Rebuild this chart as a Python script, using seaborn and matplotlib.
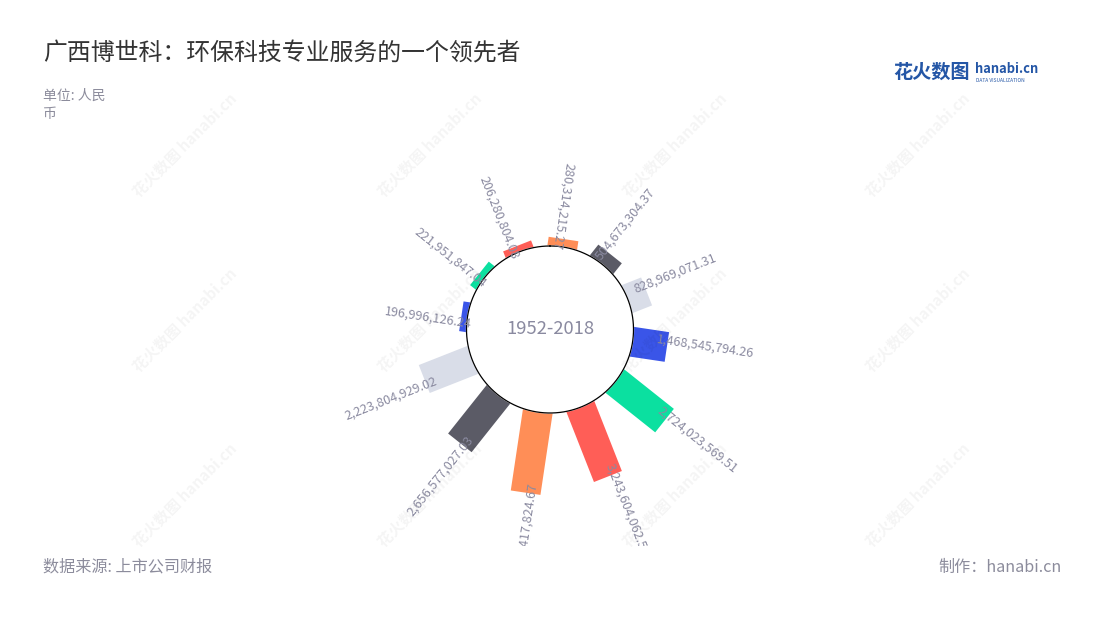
import numpy as np
import matplotlib
matplotlib.use("Agg")
import matplotlib.pyplot as plt
import seaborn as sns
from matplotlib.transforms import Bbox, Affine2D

sns.set_theme(style="white")
plt.rcParams['font.family'] = ['Noto Sans CJK SC', 'DejaVu Sans']

# ---- data ----
labels = ["280,314,215.27", "504,673,304.37", "828,969,071.31", "1,468,545,794.26",
          "2,724,023,569.51", "3,243,604,062.56", "3,554,417,824.67", "2,656,577,027.03",
          "2,223,804,929.02", "196,996,126.24", "221,951,847.04", "206,280,804.08"]
values = [280314215.27, 504673304.37, 828969071.31, 1468545794.26,
          2724023569.51, 3243604062.56, 3554417824.67, 2656577027.03,
          2223804929.02, 196996126.24, 221951847.04, 206280804.08]
palette = ["#FF8E57", "#5B5B66", "#D9DDE8", "#3A55E8", "#0BE0A0", "#FF5E57"]
center_text = "1952-2018"
title = "广西博世科：环保科技专业服务的一个领先者"
unit_lines = ["单位: 人民", "币"]
source = "数据来源: 上市公司财报"
maker = "制作：hanabi.cn"

W, H = 1100, 620
fig = plt.figure(figsize=(W / 100, H / 100), dpi=100)
fig.patch.set_facecolor("white")

# watermarks
for wx in [185, 430, 675, 918]:
    for wy in [145, 320, 495]:
        fig.text(wx / W, 1 - wy / H, "花火数图 hanabi.cn", rotation=45, ha="center", va="center",
                 fontsize=11, fontweight="bold", color="#000000", alpha=0.045, zorder=0)

# polar axes, centre at (550, 329.5) px
cx, cy, half = 550, 329.5, 200
ax = fig.add_axes([(cx - half) / W, (H - cy - half) / H, 2 * half / W, 2 * half / H], projection="polar")
ax.set_facecolor("none")
ax.set_theta_zero_location("N")
ax.set_theta_direction(-1)

px_per_unit = 22.45e-9     # pixels per yuan
r_inner_px = 85.2
rmin = -r_inner_px / px_per_unit
rmax = half / px_per_unit + rmin
ax.set_ylim(rmin, rmax)
ax.grid(False)
ax.set_xticks([])
ax.set_yticks([])
ax.spines["polar"].set_visible(False)

n = len(values)
thetas_deg = np.array([8.5 + 30 * i for i in range(n)])
thetas = np.deg2rad(thetas_deg)

clip = Bbox.from_extents(0, H - 546, W, H)  # display coords (dpi=100 -> px)
lab_shift = 6.0  # px, counter-clockwise perpendicular shift of labels

for i, (t, v, lab) in enumerate(zip(thetas, values, labels)):
    col = palette[i % len(palette)]
    ax.plot([t, t], [rmin * 0.5, v], color=col, lw=21.6, solid_capstyle="butt", zorder=2)
    a = 90 - thetas_deg[i]
    a = (a + 180) % 360 - 180
    r_lab = v - 11 / px_per_unit
    if -90 <= a < 80:
        rot, ha = a, "left"
    else:
        rot, ha = a + 180, "right"
        rot = (rot + 180) % 360 - 180
    tr = ax.transData + Affine2D().translate(-lab_shift * np.cos(t), lab_shift * np.sin(t))
    txt = ax.text(t, r_lab, lab, rotation=rot, rotation_mode="anchor", ha=ha, va="center",
                  fontsize=9.1, color="#8a8aa0", zorder=4, transform=tr)
    txt.set_clip_box(clip)
    txt.set_clip_on(True)

# inner circle
circ_t = np.linspace(0, 2 * np.pi, 400)
r_c = (83.5 - r_inner_px) / px_per_unit
ax.fill(circ_t, np.full_like(circ_t, r_c), color="white", zorder=3)
ax.plot(circ_t, np.full_like(circ_t, r_c), color="black", lw=0.9, zorder=3)
ax.text(0, rmin, center_text, ha="center", va="center", fontsize=13.3, color="#8a8aa0", zorder=5)

# texts
fig.text(43 / W, 1 - 54 / H, title, ha="left", va="center", fontsize=17.2, color="#333333")
fig.text(43 / W, 1 - 96 / H, unit_lines[0], ha="left", va="center", fontsize=10, color="#8c8c9c")
fig.text(43 / W, 1 - 114 / H, unit_lines[1], ha="left", va="center", fontsize=10, color="#8c8c9c")
fig.text(43 / W, 1 - 567 / H, source, ha="left", va="center", fontsize=11.6, color="#8c8c9c")
fig.text(1062 / W, 1 - 567 / H, maker, ha="right", va="center", fontsize=11.6, color="#8c8c9c")

# logo
fig.text(893 / W, 1 - 72 / H, "花火数图", ha="left", va="center", fontsize=13.8,
         fontweight="bold", color="#2456a6")
fig.text(975 / W, 1 - 69 / H, "hanabi.cn", ha="left", va="center", fontsize=9.3,
         fontweight="bold", color="#2456a6")
fig.text(976 / W, 1 - 80 / H, "DATA VISUALIZATION", ha="left", va="center", fontsize=3.5,
         color="#2456a6")

fig.savefig("out.png", dpi=100, facecolor="white")
